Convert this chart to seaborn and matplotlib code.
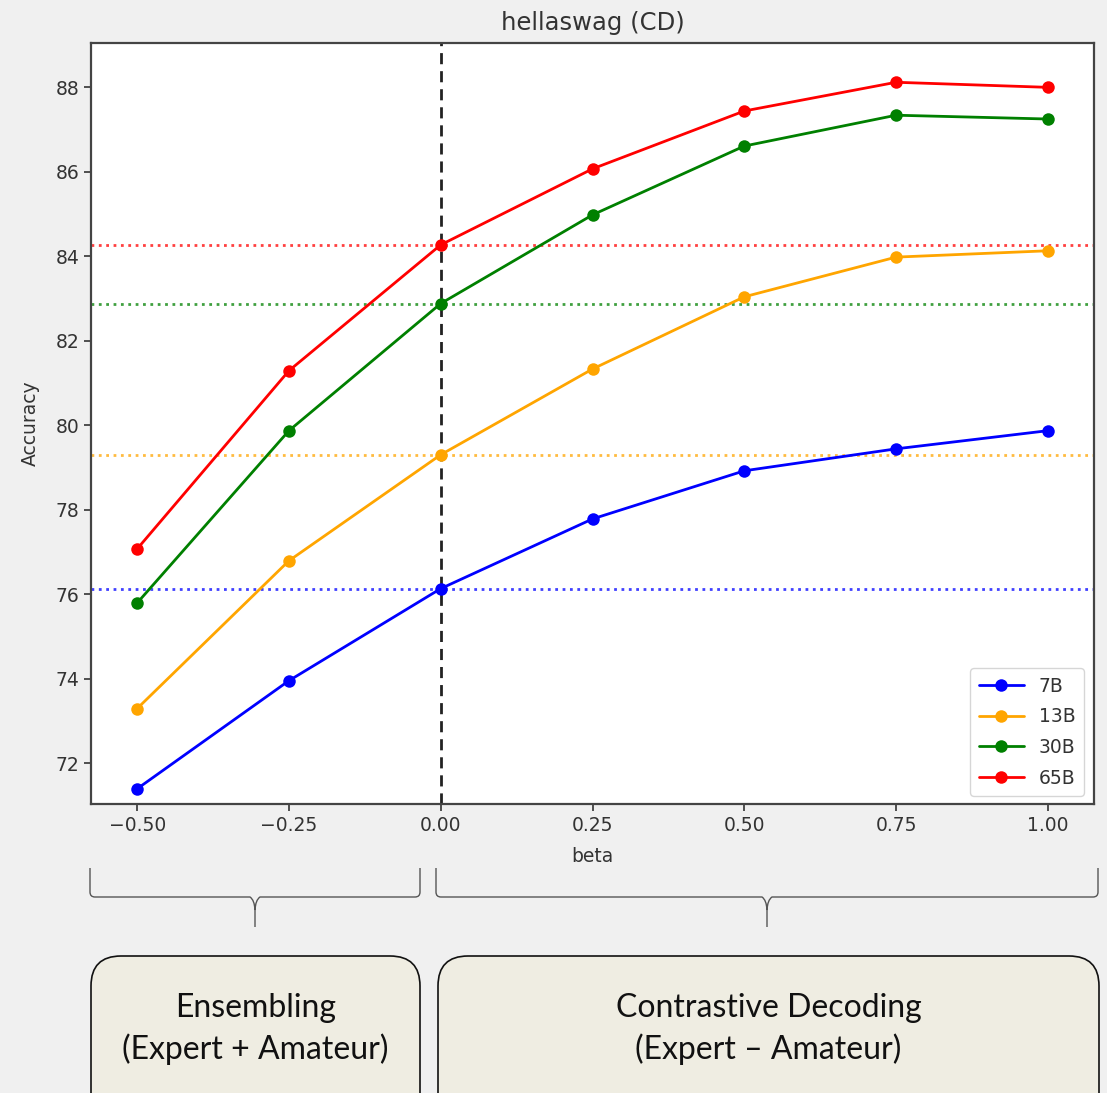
import numpy as np
import pandas as pd
import seaborn as sns
import matplotlib
matplotlib.use("Agg")
import matplotlib.pyplot as plt
from matplotlib.lines import Line2D
from matplotlib.patches import FancyBboxPatch, PathPatch
from matplotlib.path import Path
from matplotlib.transforms import Affine2D

# ---- data -------------------------------------------------------------
beta = [-0.50, -0.25, 0.00, 0.25, 0.50, 0.75, 1.00]
models = ["7B", "13B", "30B", "65B"]
acc_7b = [71.39, 73.95, 76.13, 77.78, 78.92, 79.44, 79.87]
acc_13b = [73.29, 76.79, 79.30, 81.33, 83.04, 83.98, 84.13]
acc_30b = [75.79, 79.87, 82.88, 84.98, 86.61, 87.34, 87.25]
acc_65b = [77.07, 81.29, 84.27, 86.07, 87.44, 88.12, 88.00]
colors = ["blue", "orange", "green", "red"]
title = "hellaswag (CD)"
left_label = "Ensembling\n(Expert + Amateur)"
right_label = "Contrastive Decoding\n(Expert \u2013 Amateur)"

series = [acc_7b, acc_13b, acc_30b, acc_65b]
df = pd.DataFrame({
    "beta": np.tile(beta, len(models)),
    "Accuracy": np.concatenate(series),
    "model": np.repeat(models, len(beta)),
})
palette = dict(zip(models, colors))

# ---- figure -----------------------------------------------------------
sns.set_theme(style="ticks")
plt.rcParams["font.family"] = ["DejaVu Sans"]
W, H = 1107, 1093
fig = plt.figure(figsize=(W / 100, H / 100), dpi=100, facecolor="#f0f0f0")

# pixel-space transform (origin top-left)
pix = Affine2D().scale(1 / W, -1 / H).translate(0, 1) + fig.transFigure

ax_l, ax_r, ax_t, ax_b = 91, 1094, 43, 804
ax = fig.add_axes([ax_l / W, 1 - ax_b / H, (ax_r - ax_l) / W, (ax_b - ax_t) / H])
ax.set_facecolor("white")

sns.lineplot(data=df, x="beta", y="Accuracy", hue="model", palette=palette,
             marker="o", markersize=9, markeredgewidth=0, linewidth=2,
             legend=False, ax=ax)

# baselines at beta = 0 and the split between ensembling and CD
zero_idx = beta.index(0.0)
for vals, c in zip(series, colors):
    ax.axhline(vals[zero_idx], color=c, linestyle=":", linewidth=2, alpha=0.75, zorder=1)
ax.axvline(0.0, color="#222222", linestyle=(0, (4, 2.5)), linewidth=2, zorder=1)

ax.set_xlim(-0.576, 1.076)
ax.set_ylim(71.03, 89.05)
ax.set_xticks(beta)
ax.set_xticklabels([f"{b:.2f}".replace("-", "\u2212") for b in beta])
ax.set_yticks(np.arange(72, 89, 2))
ax.tick_params(labelsize=13.5, colors="#333333", length=5, width=1.2)
for s in ax.spines.values():
    s.set_color("#444444")
    s.set_linewidth(1.6)
ax.set_xlabel("beta", fontsize=13.5, color="#333333", labelpad=9)
ax.set_ylabel("Accuracy", fontsize=13.5, color="#333333", labelpad=11)
ax.set_title(title, fontsize=17.5, color="#333333", pad=9.5)

handles = [Line2D([], [], color=c, marker="o", markersize=9, markeredgewidth=0,
                  linewidth=2) for c in colors]
leg = ax.legend(handles, models, loc="lower right", fontsize=13.5,
                frameon=True, fancybox=True, borderpad=0.45, handlelength=2.4,
                labelspacing=0.62, borderaxespad=0,
                bbox_to_anchor=(0.990, 0.0105))
leg.get_frame().set_edgecolor("#cccccc")
for t in leg.get_texts():
    t.set_color("#333333")


# ---- braces and captions below the axes ------------------------------
def brace(x0, x1, xm, ytop, yh, ybot, r=5):
    verts = [(x0, ytop), (x0, yh - r), (x0, yh), (x0 + r, yh),
             (xm - 5, yh), (xm - 0.5, yh + 3), (xm, yh + 13), (xm, ybot),
             (xm, yh + 13), (xm + 0.5, yh + 3), (xm + 5, yh),
             (x1 - r, yh), (x1, yh), (x1, yh - r), (x1, ytop)]
    codes = [Path.MOVETO, Path.LINETO, Path.CURVE3, Path.CURVE3,
             Path.LINETO, Path.CURVE3, Path.CURVE3, Path.LINETO,
             Path.MOVETO, Path.CURVE3, Path.CURVE3,
             Path.LINETO, Path.CURVE3, Path.CURVE3, Path.LINETO]
    fig.add_artist(PathPatch(Path(verts, codes), transform=pix, fill=False,
                             edgecolor="#555555", linewidth=1.0))


brace(90, 420, 255, 868, 897, 927)
brace(436, 1098, 767, 868, 897, 927)

box_font = ["Lato", "DejaVu Sans"]
for x0, x1, label in [(91, 420, left_label), (438, 1099, right_label)]:
    fig.add_artist(FancyBboxPatch((x0, 956), x1 - x0, 200,
                                  boxstyle="round,pad=0,rounding_size=30",
                                  transform=pix, facecolor="#efede2",
                                  edgecolor="#111111", linewidth=1.2))
    fig.text((x0 + x1) / 2 / W, 1 - 1029 / H, label, ha="center", va="center",
             fontsize=23, family=box_font, color="#111111", linespacing=1.38)

fig.savefig("out.png", dpi=100, facecolor=fig.get_facecolor())
